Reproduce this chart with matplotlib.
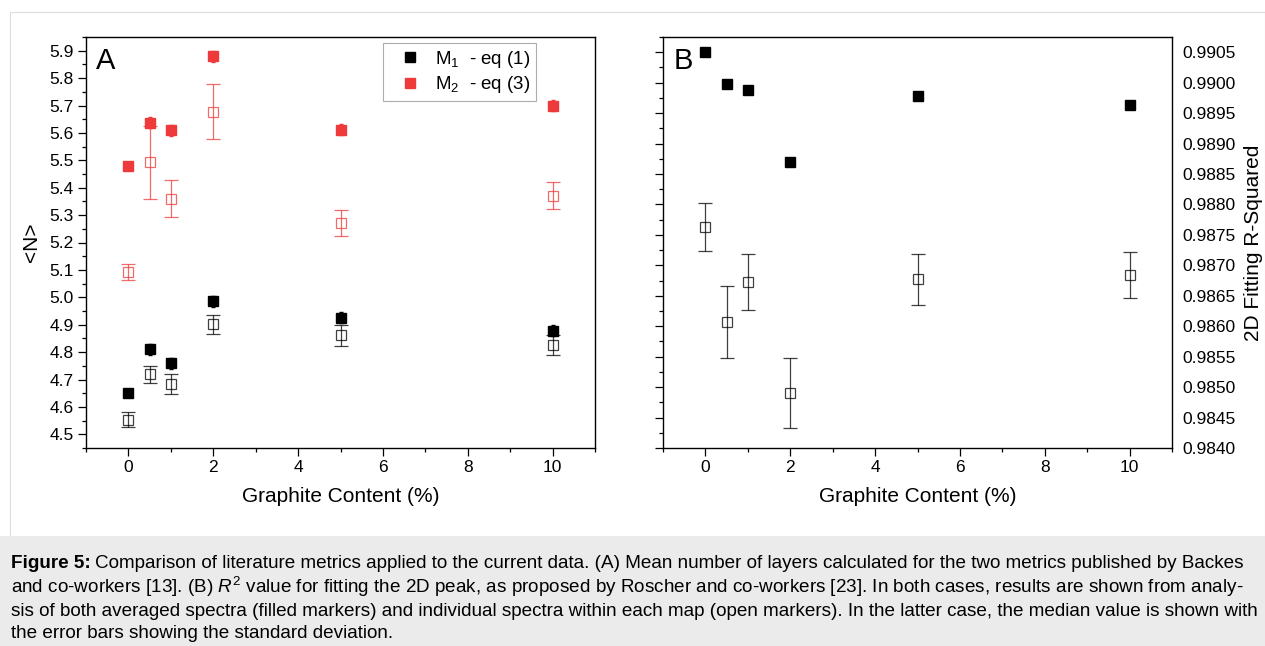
#!/usr/bin/env python3
"""Graphite content vs layer metrics (A) and 2D fitting R-squared (B)."""

import matplotlib

matplotlib.use("Agg")
import matplotlib.pyplot as plt
from matplotlib.lines import Line2D
from matplotlib.patches import Rectangle
from matplotlib.ticker import FormatStrFormatter, MultipleLocator

plt.rcParams["font.family"] = ["Liberation Sans", "DejaVu Sans"]
plt.rcParams["mathtext.fontset"] = "custom"
plt.rcParams["mathtext.rm"] = "Liberation Sans"
plt.rcParams["mathtext.it"] = "Liberation Sans:italic"

# graphite content (%)
content = [0, 0.5, 1, 2, 5, 10]

# panel A: <N>
m1_avg = [4.65, 4.81, 4.76, 4.985, 4.926, 4.878]
m1_avg_err = [0.01, 0.02, 0.02, 0.02, 0.02, 0.02]
m1_med = [4.554, 4.719, 4.683, 4.901, 4.862, 4.825]
m1_std = [0.027, 0.032, 0.036, 0.036, 0.038, 0.037]
m2_avg = [5.48, 5.637, 5.61, 5.88, 5.611, 5.70]
m2_avg_err = [0.01, 0.02, 0.02, 0.02, 0.02, 0.02]
m2_med = [5.091, 5.492, 5.36, 5.678, 5.272, 5.371]
m2_std = [0.029, 0.132, 0.067, 0.099, 0.048, 0.05]

# panel B: 2D fitting R-squared
r2_avg = [0.99050, 0.98997, 0.98988, 0.98869, 0.98978, 0.98964]
r2_avg_err = [0.00001, 0.00004, 0.00004, 0.00004, 0.00004, 0.00004]
r2_med = [0.98763, 0.98607, 0.98672, 0.98490, 0.98677, 0.98684]
r2_std = [0.00039, 0.00059, 0.00046, 0.00057, 0.00042, 0.00038]

caption_lines = [
    "Comparison of literature metrics applied to the current data. (A) Mean number of layers calculated for the two metrics published by Backes",
    "and co-workers [13]. (B) $R^2$ value for fitting the 2D peak, as proposed by Roscher and co-workers [23]. In both cases, results are shown from analy-",
    "sis of both averaged spectra (filled markers) and individual spectra within each map (open markers). In the latter case, the median value is shown with",
    "the error bars showing the standard deviation.",
]

RED = "#ee3a3a"
W, H = 1265, 646


def px_axes(fig, left, top, right, bottom):
    return fig.add_axes([left / W, 1 - bottom / H, (right - left) / W, (bottom - top) / H])


def style_axes(ax):
    for sp in ax.spines.values():
        sp.set_linewidth(1.0)
    ax.set_xlim(-1, 11)
    ax.xaxis.set_major_locator(MultipleLocator(2))
    ax.xaxis.set_minor_locator(MultipleLocator(1))
    ax.tick_params(which="major", direction="out", length=5.5, width=0.9, labelsize=12.5)
    ax.tick_params(which="minor", direction="out", length=3, width=0.9)
    ax.tick_params(axis="x", which="both", top=False)
    ax.set_xlabel("Graphite Content (%)", fontsize=15, labelpad=8)


def draw_pair(ax, x, avg, avg_err, med, std, color, open_alpha):
    ax.errorbar(x, med, yerr=std, fmt="s", ms=6.5, mfc="none", mec=color, mew=0.9,
                ecolor=color, elinewidth=0.9, capsize=4.8, capthick=0.9, alpha=open_alpha, zorder=2)
    ax.errorbar(x, avg, yerr=avg_err, fmt="s", ms=7, mfc=color, mec=color,
                ecolor=color, elinewidth=1.0, capsize=1.5, zorder=3)


fig = plt.figure(figsize=(W / 100, H / 100), dpi=100)

# frame and caption background
fig.patches.append(Rectangle((10 / W, 1 - 536 / H), 1 - 10 / W, (536 - 12) / H, transform=fig.transFigure,
                             facecolor="white", edgecolor="#dcdcdc", linewidth=0.8, zorder=-10))
fig.patches.append(Rectangle((0, 0), 1, 1 - 536 / H, transform=fig.transFigure,
                             facecolor="#ebebeb", edgecolor="none", zorder=-10))

# panel A
ax_a = px_axes(fig, 86, 37, 595, 448)
style_axes(ax_a)
ax_a.set_ylim(4.45, 5.95)
ax_a.yaxis.set_major_locator(MultipleLocator(0.1))
ax_a.yaxis.set_minor_locator(MultipleLocator(0.05))
ax_a.tick_params(axis="y", which="both", right=False)
draw_pair(ax_a, content, m1_avg, m1_avg_err, m1_med, m1_std, "black", 0.75)
draw_pair(ax_a, content, m2_avg, m2_avg_err, m2_med, m2_std, RED, 0.75)
ax_a.set_ylabel("<N>", fontsize=15, labelpad=6)
ax_a.text(0.02, 0.975, "A", transform=ax_a.transAxes, fontsize=21, va="top", ha="left")
handles = [
    Line2D([], [], ls="none", marker="s", ms=7, color="black"),
    Line2D([], [], ls="none", marker="s", ms=7, color=RED),
]
leg = ax_a.legend(handles, ["M$_1$  - eq (1)", "M$_2$  - eq (3)"], loc="upper left",
                  bbox_to_anchor=(0.583, 0.985), fontsize=13.5, frameon=True, fancybox=False,
                  edgecolor="#999999", handletextpad=0.2, borderpad=0.3, labelspacing=0.25,
                  handlelength=2.3, borderaxespad=0)
leg.get_frame().set_linewidth(0.8)

# panel B
ax_b = px_axes(fig, 663, 37, 1172, 448)
style_axes(ax_b)
ax_b.set_ylim(0.9840, 0.99075)
ax_b.yaxis.set_major_locator(MultipleLocator(0.0005))
ax_b.yaxis.set_minor_locator(MultipleLocator(0.00025))
ax_b.yaxis.set_major_formatter(FormatStrFormatter("%.4f"))
ax_b.tick_params(axis="y", which="both", left=True, right=False, labelleft=False, labelright=True)
ax_b.tick_params(axis="y", which="major", pad=2)
draw_pair(ax_b, content, r2_avg, r2_avg_err, r2_med, r2_std, "black", 0.75)
ax_b.yaxis.set_label_position("right")
ax_b.set_ylabel("2D Fitting R-Squared", fontsize=15, labelpad=6)
ax_b.text(0.02, 0.975, "B", transform=ax_b.transAxes, fontsize=21, va="top", ha="left")

# caption
fig.canvas.draw()
renderer = fig.canvas.get_renderer()
cap_size = 13.6
line_y = [563, 587, 611, 634]
head = fig.text(11 / W, 1 - line_y[0] / H, "Figure 5:", fontsize=cap_size, fontweight="bold", va="center")
bb = head.get_window_extent(renderer)
fig.text((bb.x1 + 4) / W, 1 - line_y[0] / H, caption_lines[0], fontsize=cap_size, va="center")
for y, line in zip(line_y[1:], caption_lines[1:]):
    fig.text(11 / W, 1 - y / H, line, fontsize=cap_size, va="center")

fig.savefig("out.png", dpi=100)
plt.close(fig)
